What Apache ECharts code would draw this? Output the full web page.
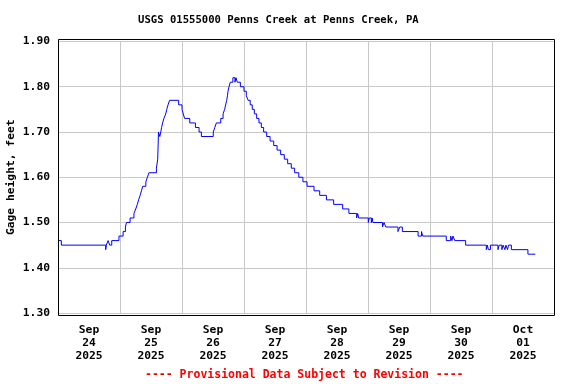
<!DOCTYPE html>
<html>
<head>
<meta charset="utf-8">
<script src="https://cdn.jsdelivr.net/npm/echarts@6/dist/echarts.min.js"></script>
<style>html,body{margin:0;padding:0;background:#fff}#c{width:576px;height:384px}</style>
</head>
<body>
<div id="c"></div>
<script>
// Hours since Sep 24 2025 00:00 at which the gage height changes
const hours = [0,1.3,18.47,18.7,19.4,20.0,20.8,23.6,25.2,26.1,26.5,27.9,29.4,30.1,30.7,31.2,31.8,32.3,32.8,34.0,34.6,35.2,38.1,38.6,38.9,39.4,39.8,40.1,40.5,41.0,41.7,42.1,42.6,43.2,46.7,48.0,48.5,49.0,51.0,53.2,54.6,55.5,60.1,60.7,61.3,63.0,63.9,64.5,64.9,65.3,65.6,65.8,66.2,66.7,67.7,68.5,68.9,69.4,70.6,72.0,72.9,73.6,74.4,75.2,76.0,76.9,77.8,78.7,79.6,80.8,82.1,83.5,84.8,86.2,87.6,88.9,90.3,91.6,93.2,94.8,96.4,99.1,101.3,103.9,106.7,110.2,112.6,115.6,116.0,116.4,120.1,120.5,121.3,121.6,121.9,125.6,126.2,126.9,131.6,132.3,133.3,139.4,140.7,141.2,150.3,152.0,152.5,152.9,153.6,157.8,165.8,166.2,166.6,167.4,170.3,170.8,171.8,172.3,173.0,173.4,174.0,174.4,175.5,181.9,184.8];
// Gage height (feet) from each of those times on
const gageHeight = [1.46,1.45,1.44,1.45,1.46,1.45,1.46,1.47,1.48,1.49,1.50,1.51,1.52,1.53,1.54,1.55,1.56,1.57,1.58,1.59,1.60,1.61,1.62,1.64,1.70,1.69,1.70,1.71,1.72,1.73,1.74,1.75,1.76,1.77,1.76,1.75,1.74,1.73,1.72,1.71,1.70,1.69,1.70,1.71,1.72,1.73,1.74,1.75,1.76,1.77,1.78,1.79,1.80,1.81,1.82,1.81,1.82,1.81,1.80,1.79,1.78,1.77,1.76,1.75,1.74,1.73,1.72,1.71,1.70,1.69,1.68,1.67,1.66,1.65,1.64,1.63,1.62,1.61,1.60,1.59,1.58,1.57,1.56,1.55,1.54,1.53,1.52,1.51,1.52,1.51,1.50,1.51,1.50,1.51,1.50,1.49,1.50,1.49,1.48,1.49,1.48,1.47,1.48,1.47,1.46,1.47,1.46,1.47,1.46,1.45,1.44,1.45,1.44,1.45,1.44,1.45,1.44,1.45,1.44,1.45,1.44,1.45,1.44,1.43,1.43];
// Day labels, placed at noon of each day
const dayLabels = ['Sep\n24\n2025','Sep\n25\n2025','Sep\n26\n2025','Sep\n27\n2025','Sep\n28\n2025','Sep\n29\n2025','Sep\n30\n2025','Oct\n01\n2025'];
const titleText = 'USGS 01555000 Penns Creek at Penns Creek, PA';
const footerText = '---- Provisional Data Subject to Revision ----';
const yAxisName = 'Gage height, feet';

const FONT = '"DejaVu Sans Mono", monospace';
const data = hours.map((h, i) => [h, gageHeight[i]]);

const chart = echarts.init(document.getElementById('c'), null, {renderer: 'canvas'});
chart.setOption({
  animation: false,
  backgroundColor: '#fff',
  title: [
    {text: titleText, left: 138, top: 15, padding: 0,
     textStyle: {fontFamily: FONT, fontSize: 10.6, fontWeight: 'bold', color: '#000'}},
    {text: footerText, left: 145, top: 369, padding: 0,
     textStyle: {fontFamily: FONT, fontSize: 11.5, fontWeight: 'bold', color: '#ff0000'}}
  ],
  grid: {left: 58, right: 22, top: 41.5, bottom: 71, show: false, containLabel: false, outerBoundsMode: 'none'},
  graphic: [{
    type: 'rect', silent: true, z: 100,
    shape: {x: 58.5, y: 39.5, width: 496, height: 276},
    style: {fill: 'none', stroke: '#000', lineWidth: 1}
  }],
  xAxis: [{
    type: 'value', min: 0, max: 192, interval: 12,
    axisLine: {show: false}, axisTick: {show: false}, splitLine: {show: false},
    axisLabel: {
      margin: 11, lineHeight: 13, fontFamily: FONT, fontSize: 11.3, fontWeight: 'bold', color: '#000',
      formatter: v => (v % 24 === 12) ? dayLabels[(v - 12) / 24] : ''
    }
  }, {
    type: 'value', min: 0, max: 192, interval: 24, position: 'bottom',
    axisLine: {show: false}, axisTick: {show: false}, axisLabel: {show: false},
    splitLine: {show: true, lineStyle: {color: '#c8c8c8', width: 1}}
  }],
  yAxis: {
    type: 'value', min: 1.3, max: 1.9, interval: 0.1,
    name: yAxisName, nameLocation: 'middle', nameGap: 41, nameMoveOverlap: false,
    nameTextStyle: {fontFamily: FONT, fontSize: 11.3, fontWeight: 'bold', color: '#000'},
    axisLine: {show: false}, axisTick: {show: false},
    axisLabel: {margin: 8, fontFamily: FONT, fontSize: 11.3, fontWeight: 'bold', color: '#000',
      formatter: v => v.toFixed(2)},
    splitLine: {show: true, lineStyle: {color: '#c8c8c8', width: 1}}
  },
  series: [{
    type: 'line', xAxisIndex: 0, data: data, step: 'end', showSymbol: false,
    lineStyle: {color: '#0000ff', width: 1}, z: 10
  }]
});
</script>
</body>
</html>
